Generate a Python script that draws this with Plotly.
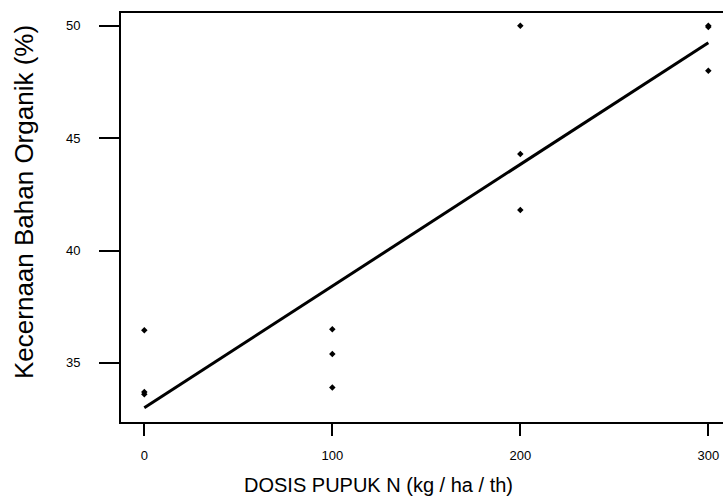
import plotly.graph_objects as go

# Observed data: dose of N fertilizer vs organic matter digestibility
dose = [0, 0, 0, 100, 100, 100, 200, 200, 200, 300, 300, 300]
digest = [36.45, 33.7, 33.6, 36.5, 35.4, 33.9, 50.0, 44.3, 41.8, 50.0, 49.95, 48.0]

# Fitted regression line
fit_x = [0, 300]
fit_y = [33.0, 49.25]

x_ticks = [0, 100, 200, 300]
y_ticks = [35, 40, 45, 50]

W, H = 723, 501
ml, mr, mt, mb = 121, 0, 13, 79
pw = W - ml - mr
ph = H - mt - mb

fig = go.Figure()
fig.add_trace(go.Scatter(x=fit_x, y=fit_y, mode="lines",
                         line=dict(color="black", width=3), showlegend=False))
fig.add_trace(go.Scatter(x=dose, y=digest, mode="markers",
                         marker=dict(color="black", size=5, symbol="diamond"),
                         showlegend=False))

tickfont = dict(family="Liberation Sans, Arial", size=13, color="black")

fig.update_layout(
    width=W, height=H,
    margin=dict(l=ml, r=mr, t=mt, b=mb),
    paper_bgcolor="white", plot_bgcolor="white",
    xaxis=dict(range=[-12.4, 307.8], tickvals=x_ticks, ticks="outside", ticklen=12,
               tickwidth=1.5, tickcolor="black", showline=True, linecolor="black",
               linewidth=2, mirror=True, showgrid=False, zeroline=False,
               tickfont=tickfont, ticklabelstandoff=8),
    yaxis=dict(range=[32.37, 50.57], tickvals=y_ticks, ticks="outside", ticklen=20,
               tickwidth=1.5, tickcolor="black", showline=True, linecolor="black",
               linewidth=2, mirror=False, showgrid=False, zeroline=False,
               tickfont=tickfont, ticklabelstandoff=16),
    annotations=[
        dict(text="Kecernaan Bahan Organik (%)", xref="paper", yref="paper",
             x=(24 - ml) / pw, y=1 - (202 - mt) / ph, xanchor="center", yanchor="middle",
             textangle=-90, showarrow=False,
             font=dict(family="Liberation Sans, Arial", size=26, color="black")),
        dict(text="DOSIS PUPUK N (kg / ha / th)", xref="paper", yref="paper",
             x=(378 - ml) / pw, y=-(485 - mt - ph) / ph, xanchor="center", yanchor="middle",
             showarrow=False,
             font=dict(family="Liberation Sans, Arial", size=20, color="black")),
    ],
)

fig.write_html("out.html")
